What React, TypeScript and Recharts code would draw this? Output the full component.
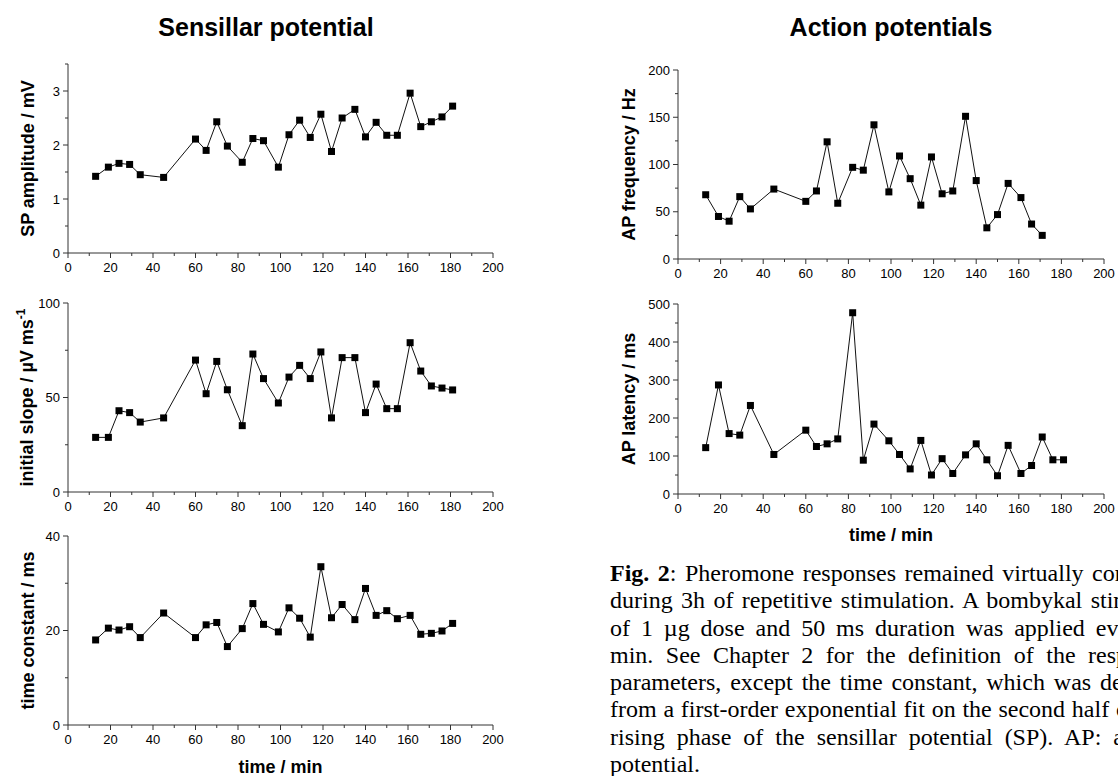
import React from 'react';
import { LineChart, Line, XAxis, YAxis } from 'recharts';

// Stimulus times (min) shared by all panels
const minutes = [13, 19, 24, 29, 34, 45, 60, 65, 70, 75, 82, 87, 92, 99, 104, 109, 114, 119, 124, 129, 135, 140, 145, 150, 155, 161, 166, 171, 176, 181];

// Sensillar potential parameters
const spAmplitude = [1.42, 1.59, 1.66, 1.64, 1.45, 1.4, 2.11, 1.9, 2.43, 1.98, 1.68, 2.12, 2.08, 1.59, 2.19, 2.46, 2.14, 2.57, 1.88, 2.5, 2.66, 2.15, 2.42, 2.18, 2.18, 2.96, 2.34, 2.43, 2.52, 2.72];
const initialSlope = [28.9, 28.9, 43.0, 42.0, 37.0, 39.2, 69.8, 52.0, 69.1, 54.1, 35.1, 73.0, 60.0, 47.1, 60.8, 67.0, 60.0, 74.1, 39.2, 71.1, 71.1, 42.0, 57.1, 44.1, 44.1, 79.0, 64.0, 56.1, 55.0, 54.0];
const timeConstant = [18.0, 20.5, 20.1, 20.8, 18.5, 23.7, 18.5, 21.2, 21.7, 16.6, 20.4, 25.7, 21.3, 19.7, 24.8, 22.6, 18.6, 33.5, 22.7, 25.5, 22.3, 28.9, 23.2, 24.2, 22.5, 23.2, 19.2, 19.4, 19.9, 21.5];

// Action potential parameters
const apFrequency = [68, 45, 40, 66, 53, 74, 61, 72, 124, 59, 97, 94, 142, 71, 109, 85, 57, 108, 69, 72, 151, 83, 33, 47, 80, 65, 37, 25];
const apLatency = [122, 287, 159, 155, 233, 104, 168, 125, 132, 145, 477, 89, 184, 140, 104, 66, 141, 50, 93, 54, 103, 132, 90, 48, 128, 54, 75, 150, 90, 90];

// Axis ticks (minor + major)
const timeTicks = [0, 10, 20, 30, 40, 50, 60, 70, 80, 90, 100, 110, 120, 130, 140, 150, 160, 170, 180, 190, 200];
const ampTicks = [0, 0.5, 1, 1.5, 2, 2.5, 3, 3.5];
const slopeTicks = [0, 25, 50, 75, 100];
const tauTicks = [0, 10, 20, 30, 40];
const freqTicks = [0, 25, 50, 75, 100, 125, 150, 175, 200];
const latencyTicks = [0, 50, 100, 150, 200, 250, 300, 350, 400, 450, 500];

const captionLines = [
  [<b key="b">Fig. 2</b>, ': Pheromone responses remained virtually constant'],
  ['during 3h of repetitive stimulation. A bombykal stimulus'],
  ['of 1 µg dose and 50 ms duration was applied every 5'],
  ['min. See Chapter 2 for the definition of the response'],
  ['parameters, except the time constant, which was derived'],
  ['from a first-order exponential fit on the second half of the'],
  ['rising phase of the sensillar potential (SP). AP: action'],
  ['potential.'],
];

const SANS = 'Liberation Sans, Arial, Helvetica, sans-serif';
const AXIS = '#333';
const PAD_L = 64;
const PAD_T = 12;
const PAD_R = 20;
const PAD_B = 30;

const isMajor = (v: number, step: number) => Math.abs(v / step - Math.round(v / step)) < 1e-6;

type PanelProps = {
  plotX: number;
  plotY: number;
  plotW: number;
  plotH: number;
  values: number[];
  yMax: number;
  yTicks: number[];
  yMajor: number;
};

function Panel({ plotX, plotY, plotW, plotH, values, yMax, yTicks, yMajor }: PanelProps) {
  const data = values.map((v, i) => ({ t: minutes[i], v }));
  const width = PAD_L + plotW + PAD_R;
  const height = PAD_T + plotH + PAD_B;

  const xTick = (p: any) => {
    const v = p.payload.value;
    const major = isMajor(v, 20);
    return (
      <g key={`x-${v}`}>
        <line x1={p.x} y1={p.y} x2={p.x} y2={p.y + (major ? 5 : 3)} stroke={AXIS} strokeWidth={1} />
        {major && (
          <text x={p.x} y={p.y + 19} textAnchor="middle" fontSize={13} fontFamily={SANS} fill="#000">
            {v}
          </text>
        )}
      </g>
    );
  };

  const yTick = (p: any) => {
    const v = p.payload.value;
    const major = isMajor(v, yMajor);
    return (
      <g key={`y-${v}`}>
        <line x1={p.x} y1={p.y} x2={p.x - (major ? 5 : 3)} y2={p.y} stroke={AXIS} strokeWidth={1} />
        {major && (
          <text x={p.x - 8} y={p.y + 4.6} textAnchor="end" fontSize={13} fontFamily={SANS} fill="#000">
            {v}
          </text>
        )}
      </g>
    );
  };

  const square = (p: any) => (
    <rect key={`d-${p.index}`} x={p.cx - 3.5} y={p.cy - 3.5} width={7} height={7} fill="#000" />
  );

  return (
    <div style={{ position: 'absolute', left: plotX - PAD_L, top: plotY - PAD_T }}>
      <LineChart width={width} height={height} data={data} margin={{ top: PAD_T, right: PAD_R, bottom: 0, left: 0 }}>
        <XAxis
          type="number"
          dataKey="t"
          domain={[0, 200]}
          ticks={timeTicks}
          interval={0}
          tickSize={0}
          tickMargin={0}
          tickLine={false}
          axisLine={{ stroke: AXIS, strokeWidth: 1 }}
          tick={xTick}
          height={PAD_B}
        />
        <YAxis
          type="number"
          domain={[0, yMax]}
          ticks={yTicks}
          interval={0}
          tickSize={0}
          tickMargin={0}
          tickLine={false}
          axisLine={{ stroke: AXIS, strokeWidth: 1 }}
          tick={yTick}
          width={PAD_L}
        />
        <Line
          type="linear"
          dataKey="v"
          stroke="#111"
          strokeWidth={1}
          dot={square}
          activeDot={false}
          isAnimationActive={false}
        />
      </LineChart>
    </div>
  );
}

function VLabel({ x, y, children }: { x: number; y: number; children: React.ReactNode }) {
  return (
    <text
      transform={`translate(${x},${y}) rotate(-90)`}
      textAnchor="middle"
      fontSize={18}
      fontWeight="bold"
      fontFamily={SANS}
      fill="#000"
    >
      {children}
    </text>
  );
}

export default function App() {
  return (
    <div
      style={{
        position: 'absolute',
        left: 0,
        top: 0,
        width: 1118,
        height: 776,
        overflow: 'hidden',
        background: '#fff',
      }}
    >
      <Panel plotX={68} plotY={64} plotW={425} plotH={189} values={spAmplitude} yMax={3.5} yTicks={ampTicks} yMajor={1} />
      <Panel plotX={68} plotY={303} plotW={425} plotH={189} values={initialSlope} yMax={100} yTicks={slopeTicks} yMajor={50} />
      <Panel plotX={68} plotY={536} plotW={425} plotH={189} values={timeConstant} yMax={40} yTicks={tauTicks} yMajor={20} />
      <Panel plotX={678} plotY={70} plotW={426} plotH={189} values={apFrequency} yMax={200} yTicks={freqTicks} yMajor={50} />
      <Panel plotX={678} plotY={304} plotW={426} plotH={190} values={apLatency} yMax={500} yTicks={latencyTicks} yMajor={100} />

      <svg
        width={1118}
        height={776}
        style={{ position: 'absolute', left: 0, top: 0, pointerEvents: 'none' }}
      >
        <text x={266} y={36} textAnchor="middle" fontSize={25} fontWeight="bold" fontFamily={SANS} fill="#000">
          Sensillar potential
        </text>
        <text x={891} y={36} textAnchor="middle" fontSize={25} fontWeight="bold" fontFamily={SANS} fill="#000">
          Action potentials
        </text>

        <VLabel x={34} y={158.5}>SP amplitude / mV</VLabel>
        <VLabel x={33} y={397.5}>
          initial slope / µV ms<tspan dy={-8} fontSize={12}>-1</tspan>
        </VLabel>
        <VLabel x={34} y={630.5}>time constant / ms</VLabel>
        <VLabel x={635} y={164.5}>AP frequency / Hz</VLabel>
        <VLabel x={635} y={399}>AP latency / ms</VLabel>

        <text x={280.5} y={773} textAnchor="middle" fontSize={18} fontWeight="bold" fontFamily={SANS} fill="#000">
          time / min
        </text>
        <text x={891} y={541} textAnchor="middle" fontSize={18} fontWeight="bold" fontFamily={SANS} fill="#000">
          time / min
        </text>
      </svg>

      <div
        style={{
          position: 'absolute',
          left: 610,
          top: 560,
          width: 562,
          fontFamily: 'Liberation Serif, "Times New Roman", serif',
          fontSize: 24,
          lineHeight: '27.3px',
          color: '#000',
        }}
      >
        {captionLines.map((parts, i) => (
          <div
            key={i}
            style={{
              textAlign: 'justify',
              textAlignLast: i === captionLines.length - 1 ? 'left' : 'justify',
            }}
          >
            {parts}
          </div>
        ))}
      </div>
    </div>
  );
}
